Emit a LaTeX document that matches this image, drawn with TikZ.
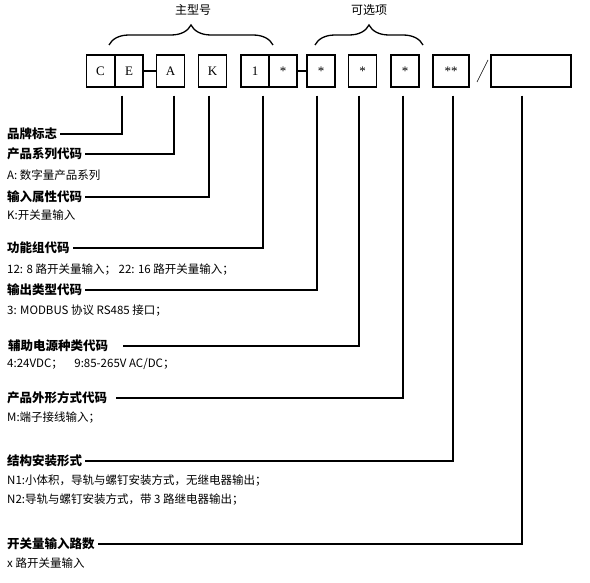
\documentclass[tikz,border=0pt]{standalone}
\usepackage{fontspec}
\setmainfont{Noto Sans CJK SC}
\newfontfamily\cellfont{Liberation Serif}
\usetikzlibrary{decorations.pathreplacing}

\tikzset{
  cell/.style={draw,line width=1.2pt,minimum height=32pt,minimum width=28pt,inner sep=0pt,font=\cellfont\fontsize{13}{13}\selectfont},
  head/.style={anchor=west,inner sep=3pt,font=\bfseries\fontsize{12.5}{14}\selectfont},
  note/.style={anchor=west,inner sep=0pt,font=\fontsize{11.5}{13}\selectfont},
  lead/.style={line width=1.6pt},
  brc/.style={decorate,decoration={brace,amplitude=20pt},line width=1.3pt}
}

\begin{document}
\begin{tikzpicture}[x=1pt,y=-1pt]
\useasboundingbox (0,0) rectangle (590,583);

% code boxes
\node[cell] (bC) at (100.5,71) {C};
\node[cell] (bE) at (129,71) {E};
\node[cell] (bA) at (170.5,71) {A};
\node[cell] (bK) at (212.5,71) {K};
\node[cell] (bOne) at (255,71) {1};
\node[cell] (bFn) at (283,71) {*};
\node[cell] (bOut) at (321,71) {*};
\node[cell] (bPwr) at (362.5,71) {*};
\node[cell] (bShp) at (405,71) {*};
\node[cell,minimum width=36pt] (bMnt) at (451,71) {**};
\node[cell,minimum width=80pt] (bCnt) at (531,71) {};
\draw[line width=1.2pt] (bE.east) -- (bA.west);
\draw[line width=1.2pt] (bFn.east) -- (bOut.west);
\draw[line width=0.6pt] (477,82) -- (488,60);

% braces
\draw[brc] (109,45) -- (273,45);
\draw[brc] (315,45) -- (423,45);
\node[font=\fontsize{12}{14}\selectfont] (tMain) at (193,10) {主型号};
\node[font=\fontsize{12}{14}\selectfont] (tOpt) at (369,10) {可选项};

% labels
\node[head] (hBrand) at (4,134) {品牌标志};
\node[head] (hSeries) at (4,154) {产品系列代码};
\node[note] (nSeries) at (7,175) {A: 数字量产品系列};
\node[head] (hInput) at (4,197) {输入属性代码};
\node[note] (nInput) at (7,215) {K:开关量输入};
\node[head] (hFunc) at (4,248) {功能组代码};
\node[note] (nFunc) at (7,270) {12: 8 路开关量输入；\ 22: 16 路开关量输入；};
\node[head] (hOut) at (4,290) {输出类型代码};
\node[note] (nOut) at (7,311) {3: MODBUS 协议 RS485 接口；};
\node[head] (hPower) at (5,346) {辅助电源种类代码};
\node[note] (nPower) at (7,364) {4:24VDC；\quad 9:85-265V AC/DC；};
\node[head] (hShape) at (4,398) {产品外形方式代码};
\node[note] (nShape) at (7,418) {M:端子接线输入；};
\node[head] (hMount) at (4,461) {结构安装形式};
\node[note] (nMountA) at (7,481) {N1:小体积，导轨与螺钉安装方式，无继电器输出；};
\node[note] (nMountB) at (7,500) {N2:导轨与螺钉安装方式，带 3 路继电器输出；};
\node[head] (hCount) at (4,544) {开关量输入路数};
\node[note] (nCount) at (7,563) {x 路开关量输入};

% leaders
\draw[lead] ([shift={(-7,8)}]bE.south) |- (hBrand.east);
\draw[lead] ([shift={(3.5,8)}]bA.south) |- (hSeries.east);
\draw[lead] ([shift={(-3.5,8)}]bK.south) |- (hInput.east);
\draw[lead] ([shift={(8,8)}]bOne.south) |- (hFunc.east);
\draw[lead] ([shift={(-4,8)}]bOut.south) |- (hOut.east);
\draw[lead] ([shift={(-3.5,8)}]bPwr.south) |- ([xshift=12pt]hPower.east);
\draw[lead] ([shift={(-2,8)}]bShp.south) |- ([xshift=6pt]hShape.east);
\draw[lead] ([shift={(2,8)}]bMnt.south) |- (hMount.east);
\draw[lead] ([shift={(-9,8)}]bCnt.south) |- (hCount.east);
\end{tikzpicture}
\end{document}
